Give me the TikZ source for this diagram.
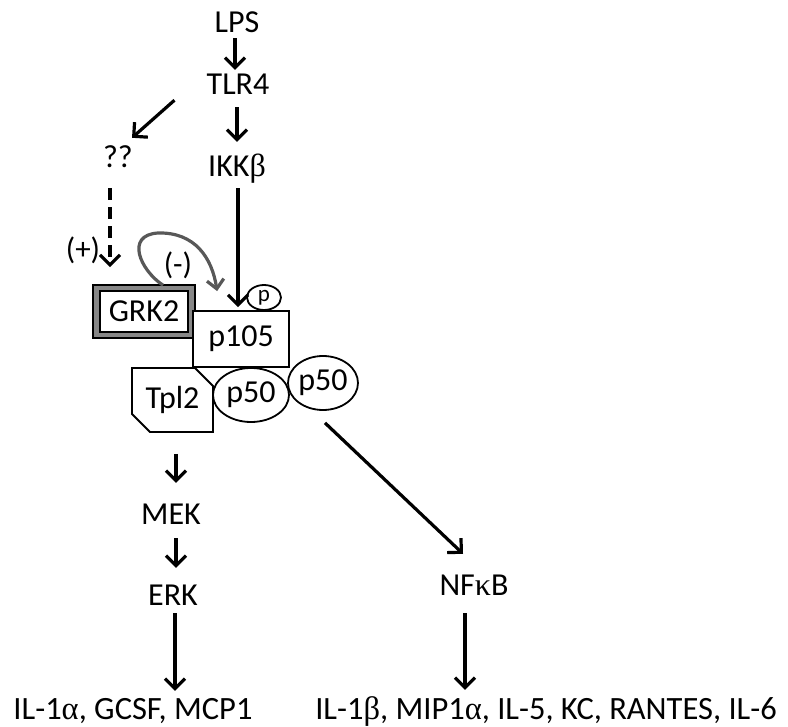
\documentclass[tikz,border=0pt]{standalone}
\usepackage{fontspec}
\setmainfont{Carlito}
\newfontfamily\grk{Liberation Serif}
\usetikzlibrary{arrows.meta,shapes.geometric,shapes.misc,calc}
\definecolor{loopgray}{RGB}{88,88,88}
\definecolor{bandgray}{RGB}{135,135,135}
\begin{document}
\begin{tikzpicture}[x=1pt,y=-1pt,
  lbl/.style={font=\fontsize{32}{38}\selectfont, inner sep=0pt, text height=20pt, text depth=0pt, anchor=base},
  outlbl/.style={font=\fontsize{32.5}{38}\selectfont, inner sep=0pt, text height=21pt, text depth=0pt, anchor=base},
  sign/.style={font=\fontsize{31}{36}\selectfont, inner sep=0pt, anchor=base},
  arr/.style={line width=3.2pt, -{Straight Barb[length=10pt,width=20pt]}},
  molbox/.style={draw, line width=1.8pt, fill=white, inner sep=0pt, font=\fontsize{32}{38}\selectfont},
  fb/.style={draw=loopgray, line width=3.2pt, -{Straight Barb[length=9pt,width=17pt]}}
]
\useasboundingbox (0,0) rectangle (788,727);

% upstream signalling
\node[lbl] (lps)  at (237,33)  {LPS};
\node[lbl] (tlr4) at (238,95)  {TLR4};
\node[lbl] (ikk)  at (237,177) {IKK{\grk β}};
\node[lbl] (qq)   at (118,168) {??};

% GRK2 with its grey double frame
\node[draw, line width=1.6pt, fill=bandgray, minimum width=102pt, minimum height=53pt, inner sep=0pt] (grk2) at (144,311.5) {};
\node[molbox, line width=1.6pt, minimum width=88pt, minimum height=41pt] (grk2in) at (144,311.5) {GRK2};

% p105 / p50 / Tpl2 complex
\node[molbox, minimum width=96pt, minimum height=56pt] (p105) at (241,339) {p105};
\node[molbox, ellipse, minimum width=34pt, minimum height=25pt, font=\fontsize{23}{26}\selectfont] (phos) at (264,297.5) {p};
\node[molbox, chamfered rectangle, chamfered rectangle corners={north east,south west},
      chamfered rectangle xsep=9pt, chamfered rectangle ysep=9pt,
      minimum width=81pt, minimum height=64pt] (tpl2) at (172.5,400) {Tpl2};
\node[molbox, ellipse, minimum width=70pt, minimum height=54pt] (p50b) at (323,383) {p50};
\node[molbox, ellipse, minimum width=76pt, minimum height=54pt] (p50a) at (251,395) {p50};

% downstream
\node[lbl] (mek)  at (171,525) {MEK};
\node[lbl] (erk)  at (173,605) {ERK};
\node[lbl] (nfkb) at (474,595) {NF{\grk κ}B};
\node[outlbl] (outl) at (133,719) {IL-1{\grk α}, GCSF, MCP1};
\node[outlbl] (outr) at (546,719) {IL-1{\grk β}, MIP1{\grk α}, IL-5, KC, RANTES, IL-6};

% regulation signs
\node[sign] (plus)  at (83,260)  {(+)};
\node[sign] (minus) at (178,275) {(-)};

% arrows
\draw[arr] ($(lps.south)+(-2,5)$) -- ($(lps.south |- tlr4.north)+(-2,-5)$);
\draw[arr] ($(tlr4.south)+(-1,12)$) -- ($(tlr4.south |- ikk.north)+(-1,-15)$);
\draw[arr] ($(tlr4.south west)+(-32,5)$) -- ($(qq.north east)+(-1,-10)$);
\draw[arr, dash pattern=on 12pt off 7pt] ($(qq.south)+(-8,20)$) -- ($(grk2.north)+(-34,-17)$);
\draw[arr] ($(ikk.south)+(1,11)$) -- ($(p105.north)+(-3,-3)$);
\draw[arr] ($(tpl2.south)+(3.5,21)$) -- ($(mek.north)+(5,-22)$);
\draw[arr] ($(mek.south)+(5,13)$) -- ($(erk.north)+(3,-17)$);
\draw[arr] ($(erk.south)+(2,8)$) -- ($(erk.south |- outl.north)+(2,-7)$);
\draw[arr] ($(p50b.south)+(2,12)$) -- ($(nfkb.north)+(-11,-21)$);
\draw[arr] ($(nfkb.south)+(-9,18)$) -- ($(nfkb.south |- outr.north)+(-9,-8)$);

% GRK2 inhibitory loop onto p105
\coordinate (looptop) at (158,233);
\draw[fb] ($(grk2.north)+(19,1)$) .. controls (140,270) and (125,235) .. (looptop)
          .. controls (195,232) and (212,258) .. ($(p105.north west)+(25,-19)$);
\end{tikzpicture}
\end{document}
